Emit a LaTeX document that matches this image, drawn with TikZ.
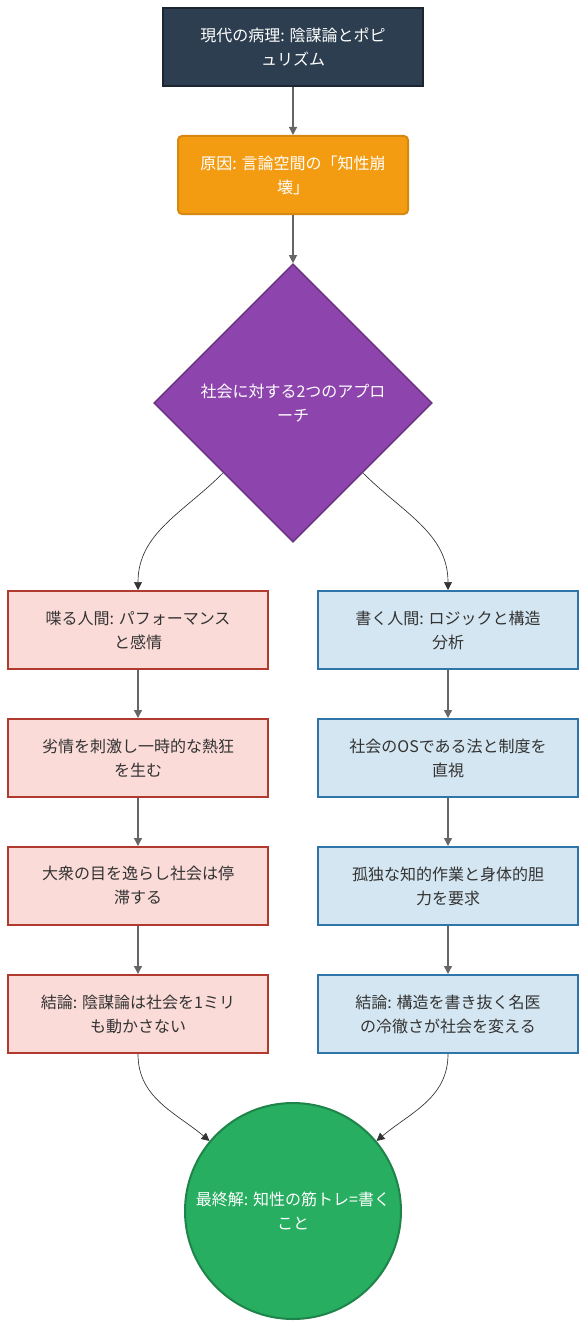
\documentclass[tikz,border=0pt]{standalone}
\usepackage{fontspec}
\setmainfont{Noto Sans CJK JP}
\usetikzlibrary{shapes.geometric,arrows.meta}
\definecolor{navy}{HTML}{2C3E50}
\definecolor{navyline}{HTML}{1B2631}
\definecolor{amber}{HTML}{F39C12}
\definecolor{amberline}{HTML}{D68910}
\definecolor{violet}{HTML}{8E44AD}
\definecolor{violetline}{HTML}{6C3483}
\definecolor{rose}{HTML}{FADBD8}
\definecolor{roseline}{HTML}{B03A2E}
\definecolor{sky}{HTML}{D4E6F1}
\definecolor{skyline}{HTML}{2E75A8}
\definecolor{leaf}{HTML}{27AE60}
\definecolor{leafline}{HTML}{1E8449}
\definecolor{ink}{HTML}{333333}
\begin{document}
\begin{tikzpicture}[x=0.75pt, y=0.75pt,
        box/.style={draw, line width=1.5pt, align=center, minimum width=195pt, minimum height=58.5pt, inner sep=0pt, font=\fontsize{12}{18}\selectfont},
        speak/.style={box, fill=rose, draw=roseline, text=ink},
        write/.style={box, fill=sky, draw=skyline, text=ink},
        arrow/.style={-{Triangle[length=6pt, width=6pt]}, draw=gray!80!black, line width=0.9pt},
        curve/.style={-{Triangle[length=6pt, width=6pt]}, draw=ink, line width=0.5pt}
        ]
        \useasboundingbox (0,0) rectangle (586,-1327);
        \node[box, fill=navy, draw=navyline, text=white] (ill) at (293,-47) {現代の病理: 陰謀論とポピ\\ュリズム};
        \node[box, fill=amber, draw=amberline, text=white, rounded corners=3pt, minimum width=172.5pt] (cause) at (293,-175) {原因: 言論空間の「知性崩\\壊」};
        \node[diamond, aspect=1, fill=violet, draw=violetline, line width=1.2pt, minimum width=208.5pt, minimum height=208.5pt, inner sep=0pt] (approach) at (293,-403) {};
        \node[text=white, align=center, font=\fontsize{12}{18}\selectfont] at (approach) {社会に対する2つのアプロ\\ーチ};
        
        % left column
        \node[speak] (talk) at (138,-630) {喋る人間: パフォーマンス\\と感情};
        \node[speak] (envy) at (138,-758) {劣情を刺激し一時的な熱狂\\を生む};
        \node[speak] (stall) at (138,-886) {大衆の目を逸らし社会は停\\滞する};
        \node[speak] (talkend) at (138,-1014) {結論: 陰謀論は社会を1ミリ\\も動かさない};
        
        % right column
        \node[write] (pen) at (448,-630) {書く人間: ロジックと構造\\分析};
        \node[write] (law) at (448,-758) {社会のOSである法と制度を\\直視};
        \node[write] (solo) at (448,-886) {孤独な知的作業と身体的胆\\力を要求};
        \node[write] (penend) at (448,-1014) {結論: 構造を書き抜く名医\\の冷徹さが社会を変える};
        
        \node[circle, fill=leaf, draw=leafline, line width=1.5pt, minimum size=162pt, inner sep=0pt, align=center, text=white, font=\fontsize{12}{18}\selectfont] (answer) at (293,-1211) {最終解: 知性の筋トレ=書く\\こと};
        
        \draw[arrow] (ill) -- (cause);
        \draw[arrow] (cause) -- (approach);
        \draw[curve] (approach.south west) to[out=-135, in=90] (talk.north);
        \draw[curve] (approach.south east) to[out=-45, in=90] (pen.north);
        \draw[arrow] (talk) -- (envy);
        \draw[arrow] (envy) -- (stall);
        \draw[arrow] (stall) -- (talkend);
        \draw[arrow] (pen) -- (law);
        \draw[arrow] (law) -- (solo);
        \draw[arrow] (solo) -- (penend);
        \draw[curve] (talkend.south) to[out=-90, in=140] (answer.140);
        \draw[curve] (penend.south) to[out=-90, in=40] (answer.40);
    \end{tikzpicture}
\end{document}
